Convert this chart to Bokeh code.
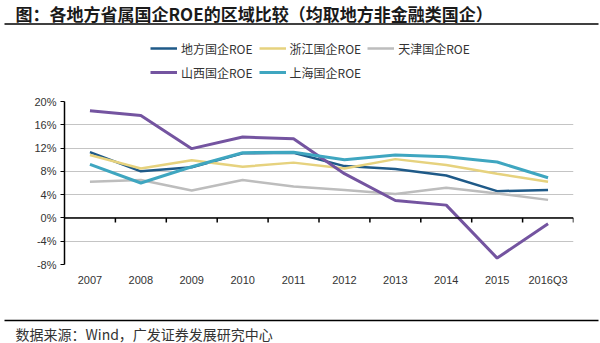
from bokeh.plotting import figure
from bokeh.layouts import column
from bokeh.models import (FixedTicker, PrintfTickFormatter, Legend, LegendItem, Range1d, Span)
from bokeh.core.properties import value
from bokeh.embed import file_html
from bokeh.resources import INLINE

categories = ["2007", "2008", "2009", "2010", "2011", "2012", "2013", "2014", "2015", "2016Q3"]
difang = [11.3, 8.0, 8.7, 11.1, 11.2, 8.9, 8.4, 7.3, 4.6, 4.8]
zhejiang = [10.8, 8.5, 9.9, 8.8, 9.5, 8.5, 10.1, 9.1, 7.6, 6.2]
tianjin = [6.2, 6.5, 4.7, 6.5, 5.4, 4.8, 4.1, 5.2, 4.2, 3.1]
shanxi = [18.4, 17.6, 11.9, 13.9, 13.6, 7.6, 3.0, 2.2, -6.9, -1.0]
shanghai = [9.2, 6.0, 8.8, 11.2, 11.3, 10.0, 10.8, 10.5, 9.6, 6.9]
series_names = ["地方国企ROE", "浙江国企ROE", "天津国企ROE", "山西国企ROE", "上海国企ROE"]
y_ticks = [-8, -4, 0, 4, 8, 12, 16, 20]
title_text = "图：各地方省属国企ROE的区域比较（均取地方非金融类国企）"
source_text = "数据来源：Wind，广发证券发展研究中心"

colors = ["#1F5A88", "#E6D27E", "#BDBDBD", "#7454A0", "#3FA6C0"]
widths = [2.5, 2.5, 2.5, 3, 3]
series = [difang, zhejiang, tianjin, shanxi, shanghai]

CJK = "Noto Sans CJK SC"
LAT = "Liberation Sans"
W = 600
NAN = float("nan")


def blank(height):
    f = figure(width=W, height=height, output_backend="svg", toolbar_location=None,
               min_border=0, x_axis_location=None, y_axis_location=None,
               x_range=Range1d(0, W), y_range=Range1d(height, 0))
    f.grid.visible = False
    f.outline_line_color = None
    f.frame_align = False
    return f


# ---------- header: title, rule, legend ----------
header = blank(88)
header.text(x=[15], y=[13], text=[title_text], text_font=value(CJK), text_font_size="17px",
            text_font_style="bold", text_color="#1a1a1a", text_baseline="middle")
header.segment(x0=[4], y0=[23.5], x1=[598], y1=[23.5], line_color="black", line_width=1.5)
dummies = [header.line(x=[NAN], y=[NAN], line_color=c, line_width=w) for c, w in zip(colors, widths)]
legend = Legend(items=[LegendItem(label=n, renderers=[r]) for n, r in zip(series_names, dummies)],
                orientation="horizontal", ncols=3, location=(150, 7),
                label_text_font=CJK, label_text_font_size="12px", label_text_color="#333333",
                glyph_width=27, glyph_height=18, label_height=18, label_standoff=4,
                spacing=6, padding=0, margin=0, border_line_color=None,
                background_fill_alpha=0)
header.add_layout(legend, "center")

# ---------- main chart ----------
p = figure(width=W, height=222, output_backend="svg", toolbar_location=None,
           min_border_left=64, min_border_right=27, min_border_top=13, min_border_bottom=46,
           x_range=Range1d(-0.5, len(categories) - 0.5), y_range=Range1d(-8, 20))
p.outline_line_color = None
p.frame_align = False

xs = list(range(len(categories)))
for data, c, w in zip(series, colors, widths):
    p.line(xs, data, line_color=c, line_width=w)

p.yaxis.ticker = FixedTicker(ticks=y_ticks)
p.yaxis.formatter = PrintfTickFormatter(format="%d%%")
p.yaxis.axis_line_color = "black"
p.yaxis.axis_line_width = 1.5
p.yaxis.major_tick_line_color = "black"
p.yaxis.major_tick_out = 4
p.yaxis.major_tick_in = 0
p.yaxis.minor_tick_line_color = None
p.yaxis.major_label_text_font = LAT
p.yaxis.major_label_text_font_size = "11px"
p.yaxis.major_label_text_color = "#333333"
p.yaxis.major_label_standoff = 4

p.ygrid.ticker = FixedTicker(ticks=y_ticks)
p.ygrid.grid_line_color = "#C4C4C4"
p.ygrid.grid_line_width = 1
p.xgrid.grid_line_color = None

p.xaxis.ticker = FixedTicker(ticks=xs)
p.xaxis.major_label_overrides = {i: c for i, c in enumerate(categories)}
p.xaxis.axis_line_color = None
p.xaxis.major_tick_line_color = None
p.xaxis.major_tick_out = 0
p.xaxis.major_tick_in = 0
p.xaxis.minor_tick_line_color = None
p.xaxis.major_label_text_font = LAT
p.xaxis.major_label_text_font_size = "11px"
p.xaxis.major_label_text_color = "#333333"
p.xaxis.major_label_standoff = 9

# zero line with boundary ticks between categories
p.add_layout(Span(location=0, dimension="width", line_color="black", line_width=1.5))
bounds = [i + 0.5 for i in xs]
p.segment(x0=bounds, y0=[0] * len(bounds), x1=bounds, y1=[-0.8] * len(bounds),
          line_color="black", line_width=1.5)

# ---------- footer: rule and source ----------
footer = blank(33)
footer.segment(x0=[4], y0=[10], x1=[598], y1=[10], line_color="black", line_width=1.5)
footer.text(x=[15], y=[23], text=[source_text], text_font=value(CJK), text_font_size="14px",
            text_color="#333333", text_baseline="middle")

layout = column(header, p, footer, spacing=0)
open("out.html", "w").write(file_html(layout, INLINE))
